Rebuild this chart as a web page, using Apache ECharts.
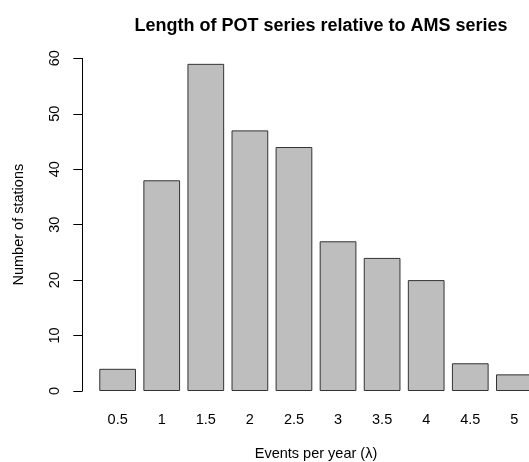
<!DOCTYPE html>
<meta charset="utf-8">
<script src="https://cdn.jsdelivr.net/npm/echarts@6.0.0/dist/echarts.min.js"></script>
<style>
html,body{margin:0;padding:0;background:#fff}
#chart{width:529px;height:462px}
</style>
<body>
<div id="chart"></div>
<script>

var categories = ['0.5','1','1.5','2','2.5','3','3.5','4','4.5','5'];
var stations = [4, 38, 59, 47, 44, 27, 24, 20, 5, 3];
var yTicks = [0, 10, 20, 30, 40, 50, 60];

var chart = echarts.init(document.getElementById('chart'));
var font = 'Liberation Sans, Arial, sans-serif';

var option = {
	backgroundColor: '#fff',
	animation: false,
	title: {
		text: 'Length of POT series relative to AMS series',
		left: 316, top: 12, textAlign: 'center',
		textStyle: { fontFamily: font, fontSize: 18, fontWeight: 'bold', color: '#000' }
	},
	grid: { left: 95.6, top: 58.3, width: 440.8, bottom: 71, containLabel: false, outerBoundsMode: 'none' },
	xAxis: {
		type: 'category',
		data: categories,
		axisLine: { show: false },
		axisTick: { show: false },
		axisLabel: { color: '#000', fontFamily: font, fontSize: 14.5, margin: 21 },
		name: 'Events per year (\u03bb)',
		nameLocation: 'middle',
		nameGap: 55,
		nameTextStyle: { color: '#000', fontFamily: font, fontSize: 14.5 }
	},
	yAxis: {
		type: 'value',
		min: 0, max: 60, interval: 10,
		offset: 13.3,
		splitLine: { show: false },
		axisLine: { show: true, lineStyle: { color: '#000', width: 1 } },
		axisTick: { show: true, length: 9, lineStyle: { color: '#000' } },
		axisLabel: {
			color: '#000', fontFamily: font, fontSize: 14.5, rotate: 90, margin: 20,
			formatter: function (v) { return yTicks.indexOf(v) >= 0 ? String(v) : ''; }
		},
		name: 'Number of stations',
		nameLocation: 'middle',
		nameGap: 56,
		nameRotate: 90,
		nameTextStyle: { color: '#000', fontFamily: font, fontSize: 14.5 }
	},
	series: [{
		type: 'bar',
		data: stations,
		barCategoryGap: '16.7%',
		itemStyle: { color: '#bebebe', borderColor: '#333', borderWidth: 1 }
	}]
};

chart.setOption(option);
</script>
</body>
